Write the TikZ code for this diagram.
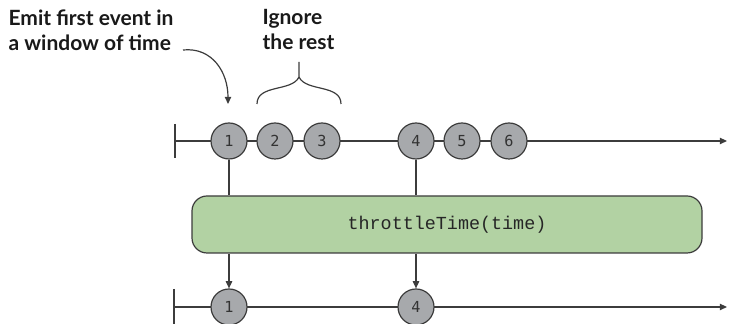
\documentclass[tikz,border=0pt]{standalone}
\usepackage{fontspec}
\setmainfont{Lato}
\setmonofont{Liberation Mono}
\newfontfamily\digitfont{DejaVu Sans Mono}
\usetikzlibrary{arrows.meta}
\definecolor{linegray}{HTML}{3C3C3C}
\definecolor{eventgray}{HTML}{A7A9AC}
\definecolor{opgreen}{HTML}{B2D2A3}
\begin{document}
\begin{tikzpicture}[x=0.5pt, y=-0.5pt,
  line width=0.6pt, draw=linegray,
  tip/.style={-{Triangle[length=3.6pt, width=3.2pt]}},
  event/.style={circle, draw=linegray, fill=eventgray, minimum size=18pt, inner sep=0pt,
    font=\digitfont\fontsize{7.6}{8}\selectfont, text=black!80},
  opbox/.style={draw=linegray, fill=opgreen, rounded corners=7.5pt, minimum width=255pt,
    minimum height=28.5pt, font=\ttfamily\fontsize{9.2}{10}\selectfont, text=black!85},
  note/.style={align=left, inner sep=0pt, anchor=north west, text=black!90,
    font=\bfseries\fontsize{10.5}{12.5}\selectfont}]
\clip (0,0) rectangle (729,324);
\useasboundingbox (0,0) rectangle (729,324);
% timelines
\draw[linegray] (175,124) -- (175,158);
\draw[linegray, tip] (175,141) -- (727,141);
\draw[linegray] (174,289) -- (174,326);
\draw[linegray, tip] (174,307) -- (727,307);
% source events
\node[event] (e1) at (229,141) {1};
\node[event] (e2) at (275,141) {2};
\node[event] (e3) at (322,141) {3};
\node[event] (e4) at (416,141) {4};
\node[event] (e5) at (462,141) {5};
\node[event] (e6) at (509,141) {6};
% operator
\node[opbox] (op) at (447,224.5) {throttleTime(time)};
% output events
\node[event] (o1) at (229,307) {1};
\node[event] (o4) at (416,307) {4};
\draw[linegray] (e1) -- (e1 |- op.north);
\draw[linegray] (e4) -- (e4 |- op.north);
\draw[linegray, tip] (e1 |- op.south) -- (o1);
\draw[linegray, tip] (e4 |- op.south) -- (o4);
% notes
\node[note] (emit) at (8,9) {Emit first event in\\a window of time};
\node[note] (ignore) at (262,9) {Ignore\\the rest};
\coordinate (emitfrom) at (183,50);
\coordinate (emitto) at (228,104);
\draw[linegray, tip] (emitfrom) .. controls (212,47) and (228,72) .. (emitto);
\coordinate (bracetop) at (299,62);
\draw[linegray] (257,104) .. controls (257,84) and (292,92) .. (299,77) -- (bracetop);
\draw[linegray] (341,104) .. controls (341,84) and (306,92) .. (299,77);
\end{tikzpicture}
\end{document}
